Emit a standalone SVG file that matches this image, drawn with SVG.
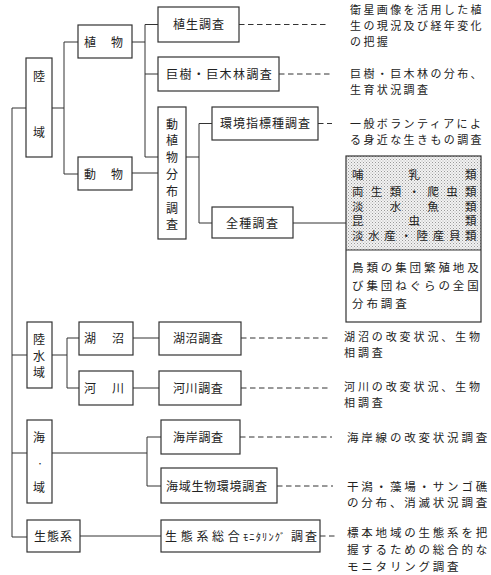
<svg xmlns="http://www.w3.org/2000/svg" width="491" height="575" viewBox="0 0 491 575">
<defs>
<pattern id="dots" width="3" height="3" patternUnits="userSpaceOnUse">
<rect width="3" height="3" fill="#f2f2f2"/>
<rect x="0" y="0" width="1" height="1" fill="#999"/>
<rect x="1.5" y="1.5" width="1" height="1" fill="#b0b0b0"/>
</pattern>
</defs>
<style>
text{font-family:"Noto Sans CJK JP","Noto Sans",sans-serif;fill:#222}
.b{fill:#fff;stroke:#333;stroke-width:1.2}
.l{font-size:12px}
.d{font-size:11px;letter-spacing:2.4px}
.d2{font-size:11px;letter-spacing:2.9px}
.d3{font-size:11.5px;letter-spacing:2.8px}
.s{font-size:11.5px}
#conn path{fill:none;stroke:#333;stroke-width:1}
#conn .dash{stroke-dasharray:5.5 3.5}
</style>
<rect width="491" height="575" fill="#fff"/>
<g id="conn">
<path d="M12 108V537H27M12 108H26M52 108H64M64 42V174M64 42H78M64 174H78"/>
<path d="M132 42H145M145 24.5V157H158M145 24.5H158M145 74H158M132 173H158"/>
<path d="M186 157H199M199 123.5V223M199 123.5H212M199 223H212M293 223H346"/>
<path d="M12 355H27M52 355H67M67 338V388M67 338H79M67 388H79M133 338H159M133 388H159"/>
<path d="M12 453H27M52 453H147M147 437V486M147 437H161M147 486H161M80 536H161"/>
<path class="dash" d="M239 24.5H329M279 74H332M318 123.5H332M241 338H330M241 388H330M240 437H332M277 486H333M320 536H335"/>
</g>
<g id="rikuiki"><rect class="b" x="26" y="58" width="26" height="99"/><text class="l" x="33" y="80.5">陸</text><text class="l" x="33" y="136.5">域</text></g>
<g id="shokubutsu"><rect class="b" x="78" y="25" width="54" height="33"/><text class="l" x="84 111" y="46.5">植物</text></g>
<g id="doubutsu"><rect class="b" x="78" y="157" width="54" height="33"/><text class="l" x="84 111" y="178.5">動物</text></g>
<g id="shokusei"><rect class="b" x="158" y="7" width="81" height="35"/><text class="l" x="173" y="29" style="letter-spacing:1px">植生調査</text></g>
<g id="kyoju"><rect class="b" x="158" y="57" width="121" height="34"/><text class="l" x="166" y="78.5" style="letter-spacing:1.4px">巨樹・巨木林調査</text></g>
<g id="doshokubutsu"><rect class="b" x="158" y="107" width="28" height="132"/>
<text class="l" x="166" y="128.5">動</text><text class="l" x="166" y="145.3">植</text><text class="l" x="166" y="162.1">物</text><text class="l" x="166" y="178.9">分</text><text class="l" x="166" y="195.7">布</text><text class="l" x="166" y="212.5">調</text><text class="l" x="166" y="229.3">査</text></g>
<g id="kankyo"><rect class="b" x="212" y="107" width="106" height="33"/><text class="l" x="220" y="128" style="letter-spacing:1px">環境指標種調査</text></g>
<g id="zenshu"><rect class="b" x="212" y="207" width="81" height="31"/><text class="l" x="226" y="227.5" style="letter-spacing:1.3px">全種調査</text></g>
<g id="zenshu-list">
<rect x="346" y="156" width="135" height="94" fill="url(#dots)" stroke="none"/>
<rect x="346" y="156" width="135" height="166" fill="none" stroke="#333" stroke-width="1.2"/>
<line x1="346" y1="250" x2="481" y2="250" stroke="#333" stroke-width="1"/>
<text class="s" x="352 408.5 465" y="179">哺乳類</text>
<text class="s" x="352 370.8 389.7 408.5 427.3 446.2 465" y="196">両生類・爬虫類</text>
<text class="s" x="352 389.7 427.3 465" y="210.5">淡水魚類</text>
<text class="s" x="352 408.5 465" y="225">昆虫類</text>
<text class="s" x="352 368.1 384.3 400.4 416.6 432.7 448.9 465" y="239.5">淡水産・陸産貝類</text>
<text class="s" x="352" y="272" style="letter-spacing:2.9px">鳥類の集団繁殖地及</text>
<text class="s" x="352" y="290" style="letter-spacing:2.9px">び集団ねぐらの全国</text>
<text class="s" x="352" y="308" style="letter-spacing:2.9px">分布調査</text>
</g>
<g id="rikusuiiki"><rect class="b" x="27" y="322" width="25" height="66"/><text class="l" x="33" y="343.5">陸</text><text class="l" x="33" y="360.5">水</text><text class="l" x="33" y="376.5">域</text></g>
<g id="kosho"><rect class="b" x="79" y="322" width="54" height="33"/><text class="l" x="84 112" y="342.5">湖沼</text></g>
<g id="kasen"><rect class="b" x="79" y="371" width="54" height="34"/><text class="l" x="84 112" y="392.5">河川</text></g>
<g id="kosho-chosa"><rect class="b" x="159" y="322" width="82" height="33"/><text class="l" x="173" y="342.5" style="letter-spacing:0.6px">湖沼調査</text></g>
<g id="kasen-chosa"><rect class="b" x="159" y="371" width="82" height="34"/><text class="l" x="173" y="392.5" style="letter-spacing:0.6px">河川調査</text></g>
<g id="kaiiki"><rect class="b" x="27" y="420" width="25" height="83"/><text class="l" x="33" y="441.5">海</text><text x="36.5" y="466" style="font-size:7px">・</text><text class="l" x="33" y="491.5">域</text></g>
<g id="kaigan"><rect class="b" x="161" y="420" width="79" height="34"/><text class="l" x="173" y="441.5" style="letter-spacing:0.7px">海岸調査</text></g>
<g id="kaiiki-seibutsu"><rect class="b" x="161" y="468" width="116" height="35"/><text class="l" x="166" y="490.5" style="letter-spacing:0.7px">海域生物環境調査</text></g>
<g id="seitaikei"><rect class="b" x="27" y="520" width="53" height="32"/><text class="l" x="34" y="540.5" style="letter-spacing:1px">生態系</text></g>
<g id="seitaikei-sogo"><rect class="b" x="161" y="520" width="159" height="32"/>
<text class="l" x="165 180.7 196.4 212 227.7" y="540.5">生態系総合</text>
<text x="243" y="540.5" style="font-size:10.5px;letter-spacing:1.1px">ﾓﾆﾀﾘﾝｸﾞ</text>
<text class="l" x="291 305" y="540.5">調査</text></g>
<g id="descriptions">
<text class="d" x="350" y="14">衛星画像を活用した植</text>
<text class="d" x="350" y="30">生の現況及び経年変化</text>
<text class="d" x="350" y="46">の把握</text>
<text class="d" x="350" y="78">巨樹・巨木林の分布、</text>
<text class="d" x="350" y="94">生育状況調査</text>
<text class="d" x="350" y="128">一般ボランティアによ</text>
<text class="d" x="350" y="144">る身近な生きもの調査</text>
<text class="d2" x="344" y="341">湖沼の改変状況、生物</text>
<text class="d2" x="344" y="357">相調査</text>
<text class="d2" x="344" y="391">河川の改変状況、生物</text>
<text class="d2" x="344" y="407">相調査</text>
<text class="d3" x="347" y="442">海岸線の改変状況調査</text>
<text class="d3" x="347" y="491">干潟・藻場・サンゴ礁</text>
<text class="d3" x="347" y="507">の分布、消滅状況調査</text>
<text class="d3" x="347" y="537">標本地域の生態系を把</text>
<text class="d3" x="347" y="554">握するための総合的な</text>
<text class="d3" x="347" y="571">モニタリング調査</text>
</g>
</svg>
